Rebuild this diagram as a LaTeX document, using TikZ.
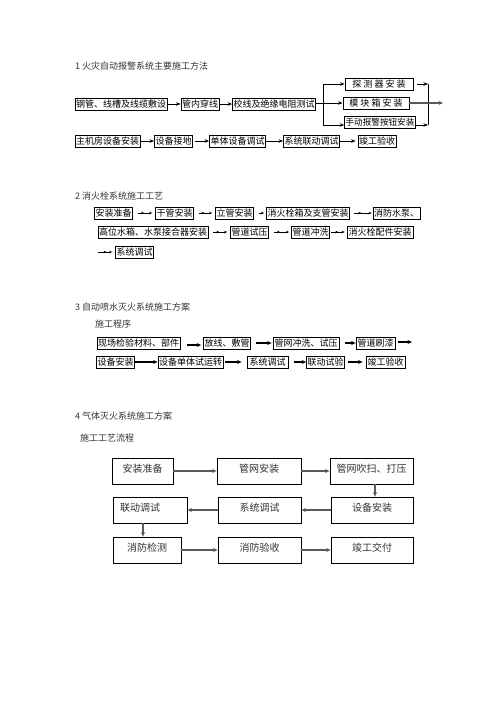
\documentclass[tikz,border=0pt]{standalone}
\usepackage{fontspec}
\newfontfamily\cjk{Noto Sans CJK SC}
\usetikzlibrary{arrows.meta,decorations.markings}
\newcommand\bxn[6][]{\node[bx,minimum width={(#4)-(#3)},#1] (#2) at ({((#3)+(#4))/2},#5) {#6};}
\begin{document}
\begin{tikzpicture}[x=1pt,y=-1pt,
  bx/.style={draw,line width=0.8pt,inner xsep=1pt,inner ysep=1pt,minimum height=12pt,
    font=\cjk\fontsize{9}{10}\selectfont,text height=8pt,text depth=1.5pt},
  bbx/.style={draw,line width=0.8pt,inner xsep=2pt,minimum height=26pt,
    font=\cjk\fontsize{10}{12}\selectfont,text height=8.5pt,text depth=5.5pt,text=black!80},
  ttl/.style={anchor=west,inner sep=0pt,font=\cjk\fontsize{9}{10}\selectfont,text=black!80},
  arr/.style={-{Stealth[length=4.5pt,width=3.5pt]},line width=0.8pt},
  tarr/.style={-{Stealth[length=4.5pt,width=4pt]},line width=1.2pt},
  garr/.style={-{Stealth[length=4.5pt,width=4pt]},line width=1.4pt,draw=black!65},
  dbl/.style={-{Stealth[length=3pt,width=2.6pt]},line width=0.5pt,
    decoration={markings,mark=at position 0.5 with {\arrow{Stealth[length=3pt,width=2.6pt]}}},
    postaction={decorate}}]
\useasboundingbox (0,0) rectangle (496,702);
\fill[white] (0,0) rectangle (496,702);

% ---------- section 1
\node[ttl] (t1) at (75,66) {1 火灾自动报警系统主要施工方法};
\bxn{A1}{75}{167}{104}{钢管、线槽及线缆敷设}
\bxn{A2}{182}{218}{104}{管内穿线}
\bxn{A3}{233}{315}{104}{校线及绝缘电阻测试}
\bxn{B1}{345}{413}{84}{探\ 测\ 器\ 安\ 装}
\bxn{B2}{343}{409}{103}{模\ 块\ 箱\ 安\ 装}
\bxn[font=\cjk\fontsize{8.6}{10}\selectfont]{B3}{345}{415}{122.5}{手动报警按钮安装}
\coordinate (bl1) at (323,84);
\coordinate (bl2) at (323,125);
\coordinate (br1) at (428,84);
\coordinate (br2) at (428,125);
\coordinate (bout) at (443,103);
\draw[arr] (A1) -- (A2);
\draw[arr] (A2) -- (A3);
\draw[arr] (A3.east |- B2.west) -- (B2.west);
\draw[line width=0.8pt] (bl1) -- (bl2);
\draw[arr] (bl1) -- (B1.west);
\draw[arr] (bl2) -- (bl2 -| B3.west);
\draw[arr,shorten <=4pt] (B1.east) -- (br1);
\draw[arr] (br2 -| B3.east) -- (br2);
\draw[line width=0.8pt] (br1) -- (br2);
\draw[garr,line width=1.6pt] (B2.east) -- (bout);

\bxn{C1}{75}{140}{141}{主机房设备安装}
\bxn{C2}{155}{192}{141}{设备接地}
\bxn{C3}{210}{265}{141}{单体设备调试}
\bxn{C4}{284}{339}{141}{系统联动调试}
\bxn{C5}{359}{395}{141}{竣工验收}
\draw[arr] (C1) -- (C2);
\draw[arr,shorten <=2pt] (C2) -- (C3);
\draw[arr] (C3) -- (C4);
\draw[arr,shorten >=2pt] (C4) -- (C5);

% ---------- section 2
\node[ttl] (t2) at (75,196) {2 消火栓系统施工工艺};
\bxn{D1}{95}{132}{213}{安装准备}
\bxn{D2}{156}{193}{213}{干管安装}
\bxn{D3}{216}{253}{213}{立管安装}
\bxn{D4}{267}{349}{213}{消火栓箱及支管安装}
\bxn{D5}{373}{420}{213}{消防水泵、}
\bxn{E1}{98}{208}{232}{高位水箱、水泵接合器安装}
\bxn{E2}{231}{268}{232}{管道试压}
\bxn{E3}{292}{329}{232}{管道冲洗}
\bxn{E4}{347}{413}{232}{消火栓配件安装}
\bxn{F1}{116}{153}{252}{系统调试}
\coordinate (f0) at (98,252);
\draw[dbl,shorten <=5pt,shorten >=3pt] (D1) -- (D2);
\draw[dbl,shorten <=5pt,shorten >=3pt] (D2) -- (D3);
\draw[-{Stealth[length=3pt,width=2.6pt]},line width=0.5pt,shorten <=5pt,shorten >=2pt] (D3) -- (D4);
\draw[dbl,shorten <=4pt,shorten >=1pt] (D4) -- (D5);
\draw[dbl,shorten <=5pt,shorten >=3pt] (E1) -- (E2);
\draw[dbl,shorten <=5pt,shorten >=2pt] (E2) -- (E3);
\draw[dbl,shorten <=1pt,shorten >=2pt] (E3) -- (E4);
\draw[dbl,shorten >=3pt] (f0) -- (F1);

% ---------- section 3
\node[ttl] (t3) at (75,307) {3 自动喷水灭火系统施工方案};
\node[ttl] (t3b) at (95,324) {施工程序};
\bxn{G1}{97}{180}{343}{现场检验材料、部件}
\bxn{G2}{204}{250}{343}{放线、敷管}
\bxn{G3}{273}{339}{343}{管网冲洗、试压}
\bxn{G4}{356}{395}{343}{管道刷漆}
\bxn{H1}{97}{134}{362}{设备安装}
\bxn{H2}{158}{223}{362}{设备单体试运转}
\bxn{H3}{247}{288}{362}{系统调试}
\bxn{H4}{307}{344}{362}{联动试验}
\bxn{H5}{366}{405}{362}{竣工验收}
\coordinate (gout) at (412,342);
\draw[tarr,shorten <=7pt,shorten >=2pt] ([yshift=-2pt]G1.east) -- ([yshift=-2pt]G2.west);
\draw[tarr,shorten <=5pt,shorten >=1pt] (G2) -- (G3);
\draw[tarr,shorten <=6pt] (G3) -- (G4);
\draw[tarr,shorten <=3pt] (G4.east |- gout) -- (gout);
\draw[tarr] (H1) -- (H2);
\draw[tarr,shorten <=2pt,shorten >=5pt] (H2) -- (H3);
\draw[tarr,shorten <=6pt] (H3) -- (H4);
\draw[tarr,shorten <=3pt,shorten >=3pt] (H4) -- (H5);

% ---------- section 4
\node[ttl] (t4) at (75,416) {4 气体灭火系统施工方案};
\node[ttl] (t4b) at (80,438) {施工工艺流程};
\bxn[bbx]{I1}{112}{173}{471}{安装准备}
\bxn[bbx]{I2}{217}{301}{471}{管网安装}
\bxn[bbx]{I3}{330}{413}{471}{管网吹扫、打压}
\bxn[bbx,text width=60pt,align=left,inner xsep=7pt]{J1}{113}{187}{510}{联动调试}
\bxn[bbx]{J2}{218}{301}{510}{系统调试}
\bxn[bbx]{J3}{331}{413}{510}{设备安装}
\bxn[bbx]{K1}{113}{181}{550}{消防检测}
\bxn[bbx]{K2}{218}{301}{550}{消防验收}
\bxn[bbx]{K3}{331}{413}{550}{竣工交付}
\draw[garr] (I1) -- (I2);
\draw[garr] (I2) -- (I3);
\draw[garr] ([xshift=3.5pt]I3.south) -- ([xshift=3.5pt]I3.south |- J3.north);
\draw[garr] (J3) -- (J2);
\draw[garr] (J2) -- (J1);
\draw[garr] ([xshift=-7pt]J1.south) -- ([xshift=-7pt]J1.south |- K1.north);
\draw[garr] (K1) -- (K2);
\draw[garr] (K2) -- (K3);
\end{tikzpicture}
\end{document}
